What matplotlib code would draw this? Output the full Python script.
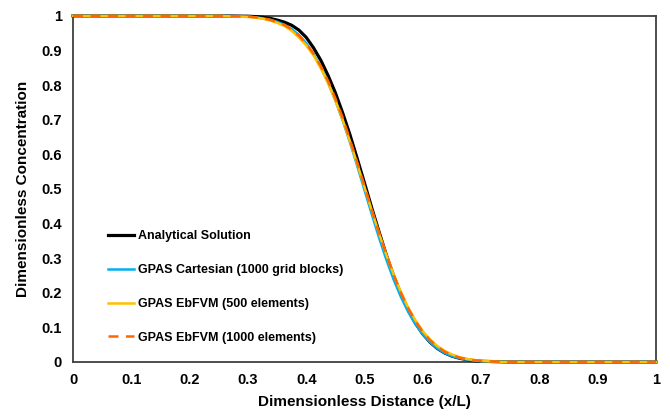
import matplotlib.pyplot as plt

# Dimensionless distance (x/L)
x = [0.0, 0.1, 0.2, 0.25, 0.3, 0.3125, 0.325, 0.3375, 0.35, 0.3625, 0.375, 0.3875,
     0.4, 0.4125, 0.425, 0.4375, 0.45, 0.4625, 0.475, 0.4875, 0.5, 0.5125, 0.525,
     0.5375, 0.55, 0.5625, 0.575, 0.5875, 0.6, 0.6125, 0.625, 0.6375, 0.65, 0.6625,
     0.675, 0.6875, 0.7, 0.725, 0.75, 0.8, 0.9, 1.0]

# Dimensionless concentration
analytical = [1.0, 1.0, 1.0, 1.0, 0.999, 0.998, 0.996, 0.993, 0.988, 0.982, 0.973, 0.959,
              0.938, 0.908, 0.872, 0.828, 0.778, 0.720, 0.657, 0.588, 0.517, 0.445, 0.376,
              0.309, 0.249, 0.196, 0.150, 0.112, 0.081, 0.057, 0.039, 0.026, 0.017, 0.011,
              0.007, 0.004, 0.002, 0.001, 0.0, 0.0, 0.0, 0.0]
cartesian = [1.0, 1.0, 1.0, 1.0, 0.998, 0.996, 0.993, 0.989, 0.983, 0.974, 0.962, 0.945,
             0.921, 0.890, 0.852, 0.807, 0.756, 0.698, 0.635, 0.567, 0.497, 0.427, 0.359,
             0.296, 0.238, 0.188, 0.145, 0.109, 0.080, 0.057, 0.039, 0.026, 0.017, 0.011,
             0.007, 0.004, 0.002, 0.001, 0.0, 0.0, 0.0, 0.0]
ebfvm_500 = [1.0, 1.0, 1.0, 1.0, 0.997, 0.995, 0.992, 0.987, 0.980, 0.971, 0.957, 0.938,
             0.915, 0.886, 0.849, 0.806, 0.756, 0.700, 0.638, 0.573, 0.506, 0.438, 0.372,
             0.310, 0.253, 0.202, 0.157, 0.120, 0.089, 0.065, 0.046, 0.032, 0.022, 0.014,
             0.009, 0.006, 0.003, 0.001, 0.0, 0.0, 0.0, 0.0]
ebfvm_1000 = [1.0, 1.0, 1.0, 1.0, 0.998, 0.996, 0.993, 0.989, 0.982, 0.974, 0.961, 0.943,
              0.920, 0.891, 0.855, 0.812, 0.762, 0.706, 0.643, 0.577, 0.509, 0.440, 0.373,
              0.310, 0.252, 0.200, 0.155, 0.118, 0.087, 0.063, 0.044, 0.030, 0.020, 0.013,
              0.008, 0.005, 0.003, 0.001, 0.0, 0.0, 0.0, 0.0]

ticks = [0, 0.1, 0.2, 0.3, 0.4, 0.5, 0.6, 0.7, 0.8, 0.9, 1]
tick_labels = ["0", "0.1", "0.2", "0.3", "0.4", "0.5", "0.6", "0.7", "0.8", "0.9", "1"]

plt.rcParams['font.family'] = ['Liberation Sans', 'DejaVu Sans']

fig = plt.figure(figsize=(6.7, 4.18), dpi=100)
ax = fig.add_axes([0.109, 0.134, 0.87, 0.828])

ax.plot(x, analytical, color='black', lw=2.3, label='Analytical Solution', clip_on=False, zorder=3)
ax.plot(x, cartesian, color='#00B0F0', lw=1.8, label='GPAS Cartesian (1000 grid blocks)', clip_on=False, zorder=4)
ax.plot(x, ebfvm_500, color='#FFC000', lw=1.8, label='GPAS EbFVM (500 elements)', clip_on=False, zorder=5)
ax.plot(x, ebfvm_1000, color='#FF6600', lw=1.8, ls=(0, (4, 3)), label='GPAS EbFVM (1000 elements)',
        clip_on=False, zorder=6)

ax.set_xlim(0, 1)
ax.set_ylim(0, 1)
ax.set_xticks(ticks)
ax.set_xticklabels(tick_labels)
ax.set_yticks(ticks)
ax.set_yticklabels(tick_labels)
ax.tick_params(length=0, pad=8, labelsize=10.5)
for lbl in ax.get_xticklabels() + ax.get_yticklabels():
    lbl.set_fontweight('bold')

for s in ax.spines.values():
    s.set_color('#404040')
    s.set_linewidth(1.3)
    s.set_zorder(2)

ax.set_xlabel('Dimensionless Distance (x/L)', fontsize=11, fontweight='bold', labelpad=6)
ax.set_ylabel('Dimensionless Concentration', fontsize=11, fontweight='bold', labelpad=8)

leg = ax.legend(loc='lower left', bbox_to_anchor=(0.04, 0.02), frameon=False,
                handlelength=2.15, handletextpad=0.25, labelspacing=1.75,
                prop={'weight': 'bold', 'size': 9})

fig.savefig('out.png', dpi=100)
